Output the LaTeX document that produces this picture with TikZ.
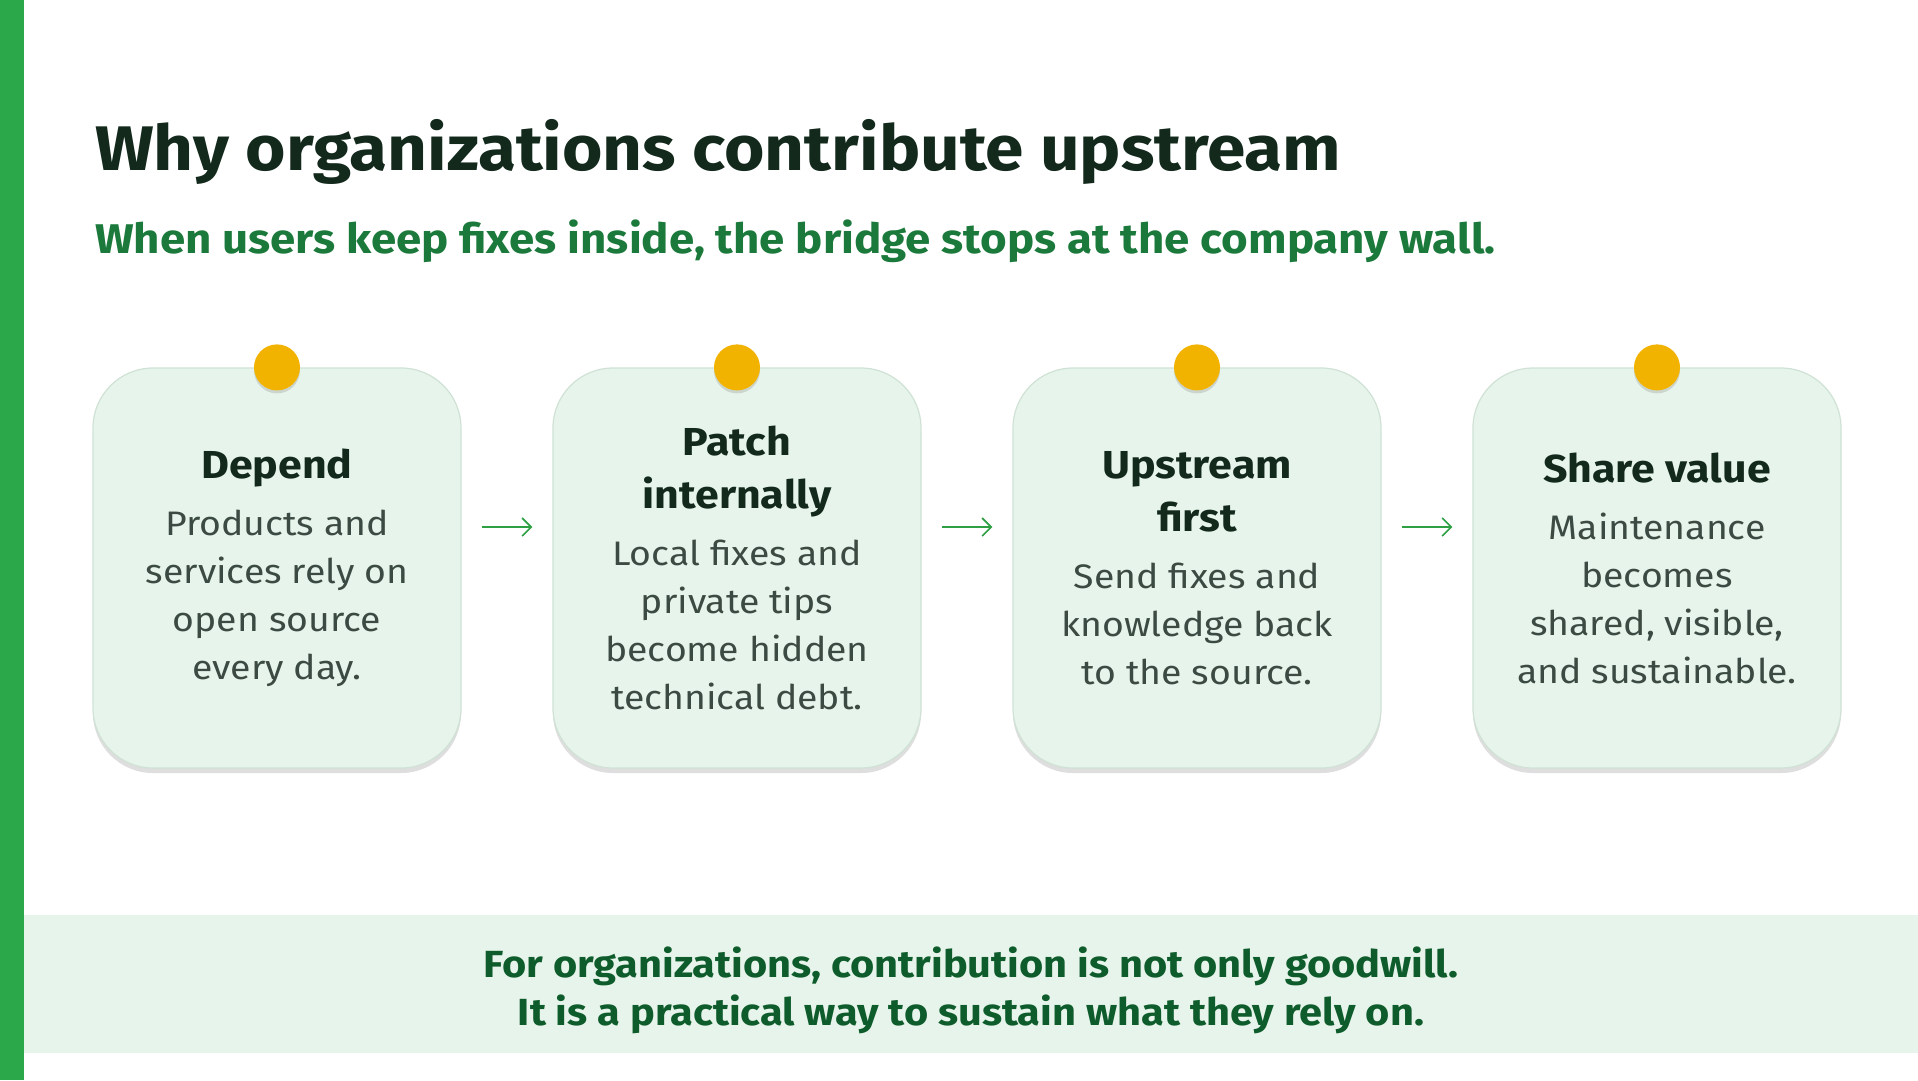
\documentclass[tikz,border=0pt]{standalone}
\usepackage{fontspec}
\setmainfont{Fira Sans}[FakeStretch=1.1]
\usetikzlibrary{arrows.meta,%
                shadows,positioning}

\definecolor{barGreen}{HTML}{2BA84A}
\definecolor{titleInk}{HTML}{12291C}
\definecolor{subGreen}{HTML}{1B7A3B}
\definecolor{cardFill}{HTML}{E7F4EB}
\definecolor{cardEdge}{HTML}{CFE2D5}
\definecolor{pinGold}{HTML}{F2B300}
\definecolor{bodyInk}{HTML}{3B4A42}
\definecolor{noteInk}{HTML}{0E5C2B}
\definecolor{arrowGreen}{HTML}{2EA043}

\newcommand\cardtext[2]{{\fontsize{39}{52.6}\selectfont\bfseries\color{titleInk}#1\par}%
  \vspace{9pt}{\fontsize{34}{48}\selectfont\color{bodyInk}#2\par}}

\begin{document}
\begin{tikzpicture}[x=1pt,y=-1pt,
  card/.style={draw=cardEdge, line width=1.2pt, fill=cardFill, rounded corners=60pt,
    minimum width=368pt, minimum height=400pt, text width=350pt, align=flush center,
    drop shadow={shadow xshift=0pt, shadow yshift=-5pt, opacity=.18, fill=black!70}},
  pin/.style={circle, fill=pinGold, minimum size=46pt, inner sep=0pt,
    drop shadow={shadow xshift=0pt, shadow yshift=-3pt, opacity=.18, fill=black!70}},
  flow/.style={-{Straight Barb[length=9pt,width=18pt]}, line width=1.7pt, draw=arrowGreen,
    shorten <=20pt, shorten >=20pt}]
\useasboundingbox (0,0) rectangle (1918,1080);
\fill[white] (0,0) rectangle (1918,1080);
\fill[barGreen] (0,0) rectangle (24,1080);

\node[anchor=base west, inner sep=0pt, font=\fontsize{63}{70}\selectfont\bfseries, text=titleInk]
  (title) at (95,170) {Why organizations contribute upstream};
\node[anchor=base west, inner sep=0pt, font=\fontsize{41.5}{48}\selectfont\bfseries, text=subGreen]
  (sub) at (95,253) {When users keep fixes inside, the bridge stops at the company wall.};

\node[card] (c1) at (277,568) {\cardtext{Depend}{Products and\\services rely on\\open source\\every day.}};
\node[card] (c2) at (737,568) {\cardtext{Patch\\internally}{Local fixes and\\private tips\\become hidden\\technical debt.}};
\node[card] (c3) at (1197,568) {\cardtext{Upstream\\first}{Send fixes and\\knowledge back\\to the source.}};
\node[card] (c4) at (1657,568) {\cardtext{Share value}{Maintenance\\becomes\\shared, visible,\\and sustainable.}};

\node[pin] (p1) at (c1.north) {};
\node[pin] (p2) at (c2.north) {};
\node[pin] (p3) at (c3.north) {};
\node[pin] (p4) at (c4.north) {};

\draw[flow] ([yshift=41pt]c1.east) -- ([yshift=41pt]c2.west);
\draw[flow] ([yshift=41pt]c2.east) -- ([yshift=41pt]c3.west);
\draw[flow] ([yshift=41pt]c3.east) -- ([yshift=41pt]c4.west);

% bottom note
\fill[cardFill] (24,915) rectangle (1918,1053);
\node[align=center, font=\fontsize{37.8}{47.7}\selectfont\bfseries, text=noteInk]
  (note) at (971,990) {For organizations, contribution is not only goodwill.\\It is a practical way to sustain what they rely on.};
\end{tikzpicture}
\end{document}
